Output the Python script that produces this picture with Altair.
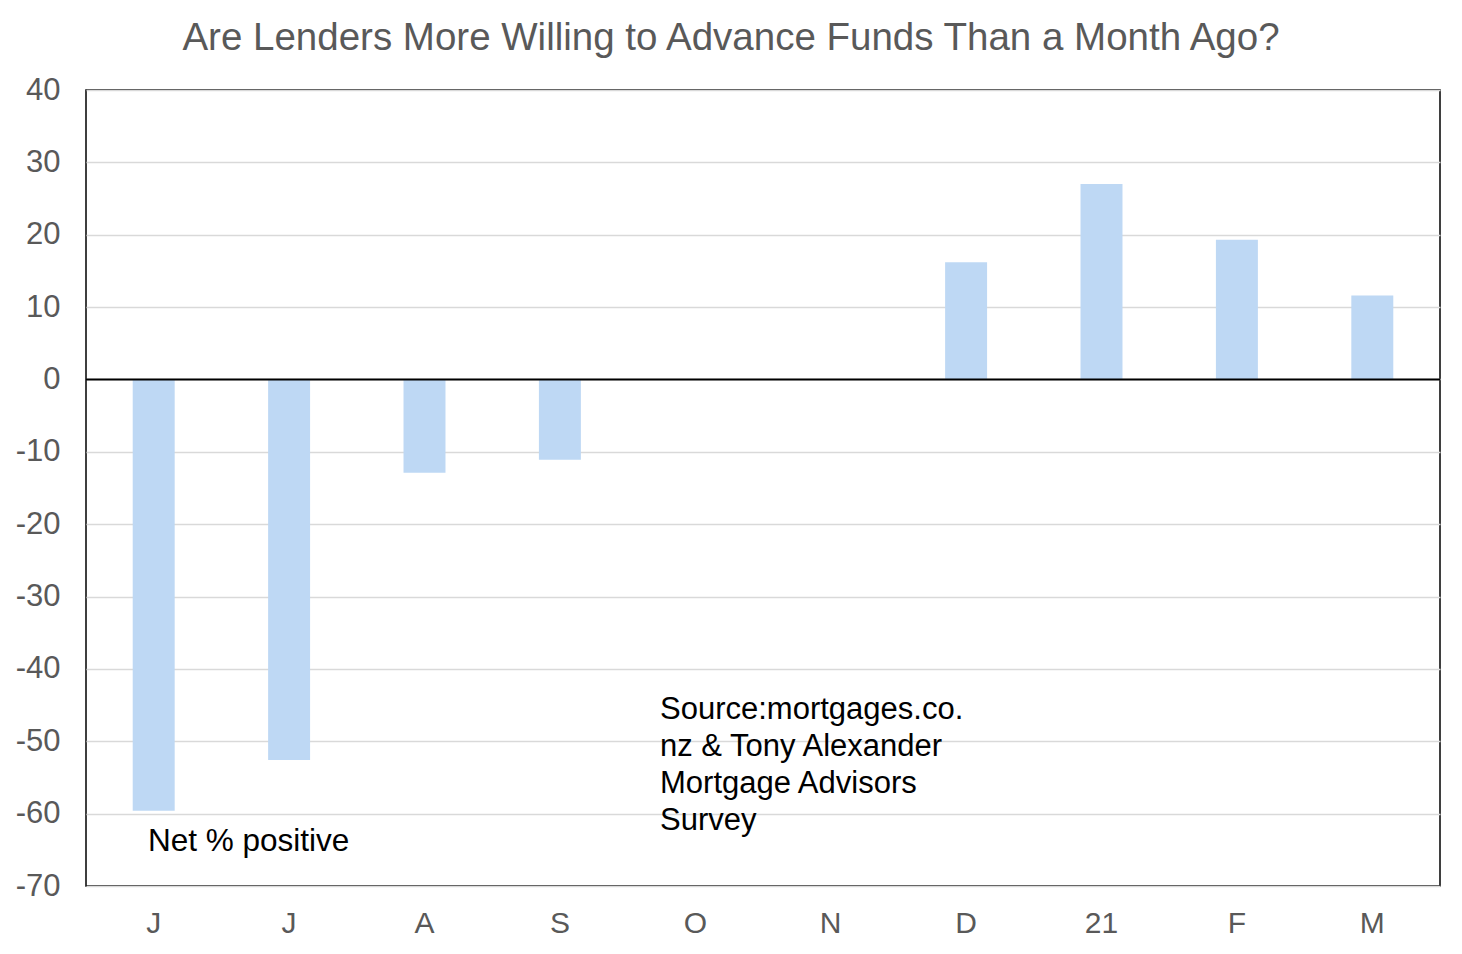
import altair as alt
import pandas as pd

months = ["J", "J", "A", "S", "O", "N", "D", "21", "F", "M"]
values = [-59.6, -52.6, -12.9, -11.1, 0, 0, 16.2, 27.0, 19.3, 11.6]

df = pd.DataFrame({"idx": list(range(len(months))), "month": months, "value": values})
label_map = {str(i): m for i, m in enumerate(months)}
label_expr = "{" + ",".join(f"'{k}':'{v}'" for k, v in label_map.items()) + "}[datum.value]"

FONT = "Liberation Sans"
GRAY = "#595959"

x_enc = alt.X(
    "idx:O",
    sort=list(range(len(months))),
    scale=alt.Scale(paddingInner=0.69, paddingOuter=0.345),
    axis=alt.Axis(
        title=None, labelExpr=label_expr, ticks=False, domain=False, labelAngle=0,
        labelFont=FONT, labelFontSize=30, labelColor=GRAY, labelPadding=22, labelBaseline="top",
    ),
)
y_scale = alt.Scale(domain=[-70, 40], nice=False, zero=False)

bars = alt.Chart(df).mark_bar(color="#BED8F4").encode(
    x=x_enc,
    y=alt.Y(
        "value:Q", scale=y_scale,
        axis=alt.Axis(
            title=None, values=list(range(-70, 41, 10)), ticks=False, domain=False,
            grid=True, gridColor="#D9D9D9", gridWidth=1.5,
            labelExpr="datum.value + ''",
            labelFont=FONT, labelFontSize=31, labelColor=GRAY, labelPadding=26,
        ),
    ),
    y2=alt.datum(0),
)

zero = alt.Chart(pd.DataFrame({"z": [0]})).mark_rule(color="black", strokeWidth=2).encode(
    y=alt.Y("z:Q", scale=y_scale)
)

note1 = alt.Chart(pd.DataFrame({"t": ["Net % positive"]})).mark_text(
    font=FONT, fontSize=31.5, color="black", align="left", baseline="alphabetic"
).encode(text="t:N", x=alt.value(62), y=alt.value(761))

note2 = alt.Chart(pd.DataFrame({"t": [["Source:mortgages.co.", "nz & Tony Alexander", "Mortgage Advisors", "Survey"]]})).mark_text(
    font=FONT, fontSize=31, color="black", align="left", baseline="alphabetic", lineHeight=37
).encode(text="t", x=alt.value(574), y=alt.value(629))

chart = alt.layer(bars, zero, note1, note2).properties(
    width=1354,
    height=796,
    title=alt.TitleParams(
        "Are Lenders More Willing to Advance Funds Than a Month Ago?",
        font=FONT, fontSize=38.5, fontWeight="normal", color=GRAY, anchor="middle",
        dx=-32, offset=16,
    ),
    autosize=alt.AutoSizeParams(type="none"),
    padding={"left": 78, "top": 82, "right": 10, "bottom": 60},
).configure(background="white").configure_view(stroke="black", strokeWidth=1.5)

chart.save("out.html", embed_options={"renderer": "svg", "actions": False})
